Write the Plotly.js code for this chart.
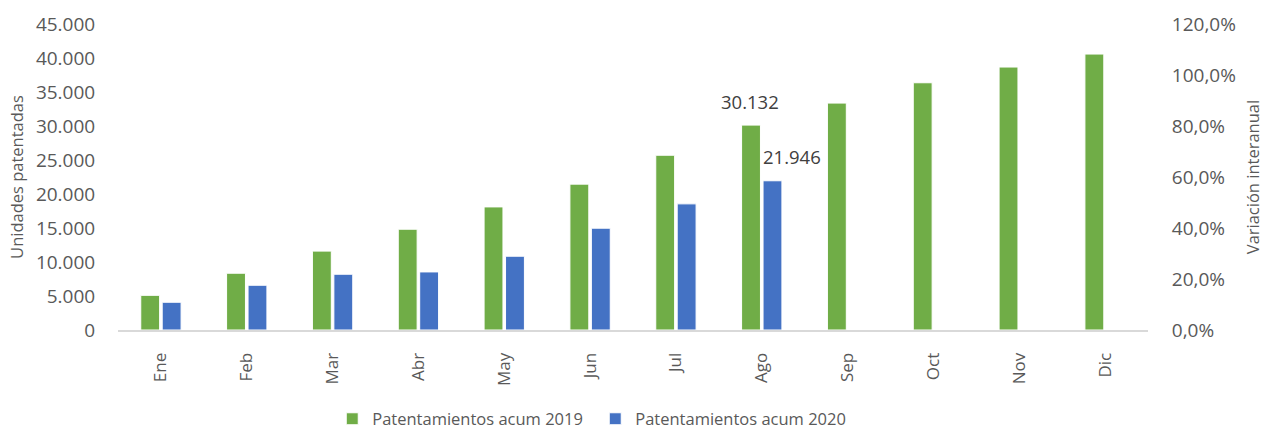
<!DOCTYPE html>
<html>
<head>
<meta charset="utf-8">
<script src="https://cdn.plot.ly/plotly-3.0.1.min.js"></script>
<style>html,body{margin:0;padding:0;background:#fff;}#chart{width:1264px;height:432px;}</style>
</head>
<body>
<div id="chart"></div>
<script>
const months = ['Ene','Feb','Mar','Abr','May','Jun','Jul','Ago','Sep','Oct','Nov','Dic'];
const acum2019 = [5100, 8350, 11600, 14820, 18100, 21450, 25700, 30132, 33370, 36360, 38670, 40580];
const acum2020 = [4080, 6580, 8200, 8540, 10850, 14970, 18550, 21946];
const name2019 = 'Patentamientos acum 2019';
const name2020 = 'Patentamientos acum 2020';
const labelMonth = 'Ago';

const FONT = 'Open Sans, Segoe UI, sans-serif';
const TXT = '#595959';

const iLab = months.indexOf(labelMonth);

const traces = [
  {type:'bar', name:name2019, x:months, y:acum2019,
   marker:{color:'#70AD47', line:{color:'#ffffff', width:1}}, hoverinfo:'skip'},
  {type:'bar', name:name2020, x:months.slice(0, acum2020.length), y:acum2020,
   marker:{color:'#4472C4', line:{color:'#ffffff', width:1}}, hoverinfo:'skip'},
  {type:'scatter', x:[], y:[], yaxis:'y2', showlegend:false, hoverinfo:'skip'}
];

const fmt = v => v.toLocaleString('de-DE');

const layout = {
  width:1264, height:432,
  margin:{l:118, r:116, t:24, b:102},
  paper_bgcolor:'#ffffff', plot_bgcolor:'#ffffff',
  separators:',.',
  font:{family:FONT, color:TXT, size:16},
  barmode:'group', bargap:0.5, bargroupgap:0.12,
  showlegend:true,
  legend:{orientation:'h', xref:'paper', x:0.208, xanchor:'left',
          yref:'container', y:0.03, yanchor:'middle',
          font:{family:FONT, size:16.5, color:TXT}, itemwidth:30, entrywidth:218,
          traceorder:'normal'},
  xaxis:{type:'category', showgrid:false, zeroline:false, showline:true, automargin:false,
         linecolor:'#d9d9d9', linewidth:2, tickangle:-90,
         ticks:'outside', ticklen:14, tickcolor:'rgba(0,0,0,0)',
         tickfont:{family:FONT, size:17, color:TXT}, fixedrange:true},
  yaxis:{range:[0,45000], dtick:5000, tickformat:',d', showgrid:false, zeroline:false,
         automargin:false, showline:false, ticks:'outside', ticklen:18, tickcolor:'rgba(0,0,0,0)',
         tickfont:{family:FONT, size:19, color:TXT},
         title:{text:'Unidades patentadas', font:{family:FONT, size:16.5, color:TXT}, standoff:8}},
  yaxis2:{overlaying:'y', side:'right', range:[0,1.2], dtick:0.2, tickformat:'.1%',
          automargin:false, showgrid:false, zeroline:false, showline:false, ticks:'outside', ticklen:19,
          tickcolor:'rgba(0,0,0,0)', tickfont:{family:FONT, size:19, color:TXT},
          title:{text:'Variación interanual', font:{family:FONT, size:16.5, color:TXT}, standoff:14}},
  annotations:[
    {x:months[iLab], y:acum2019[iLab], xref:'x', yref:'y', text:fmt(acum2019[iLab]),
     showarrow:false, xshift:-12, yshift:24, font:{family:FONT, size:18.5, color:'#404040'}},
    {x:months[iLab], y:acum2020[iLab], xref:'x', yref:'y', text:fmt(acum2020[iLab]),
     showarrow:false, xshift:30, yshift:24, font:{family:FONT, size:18.5, color:'#404040'}}
  ]
};

Plotly.newPlot('chart', traces, layout, {staticPlot:true, displayModeBar:false});
</script>
</body>
</html>
